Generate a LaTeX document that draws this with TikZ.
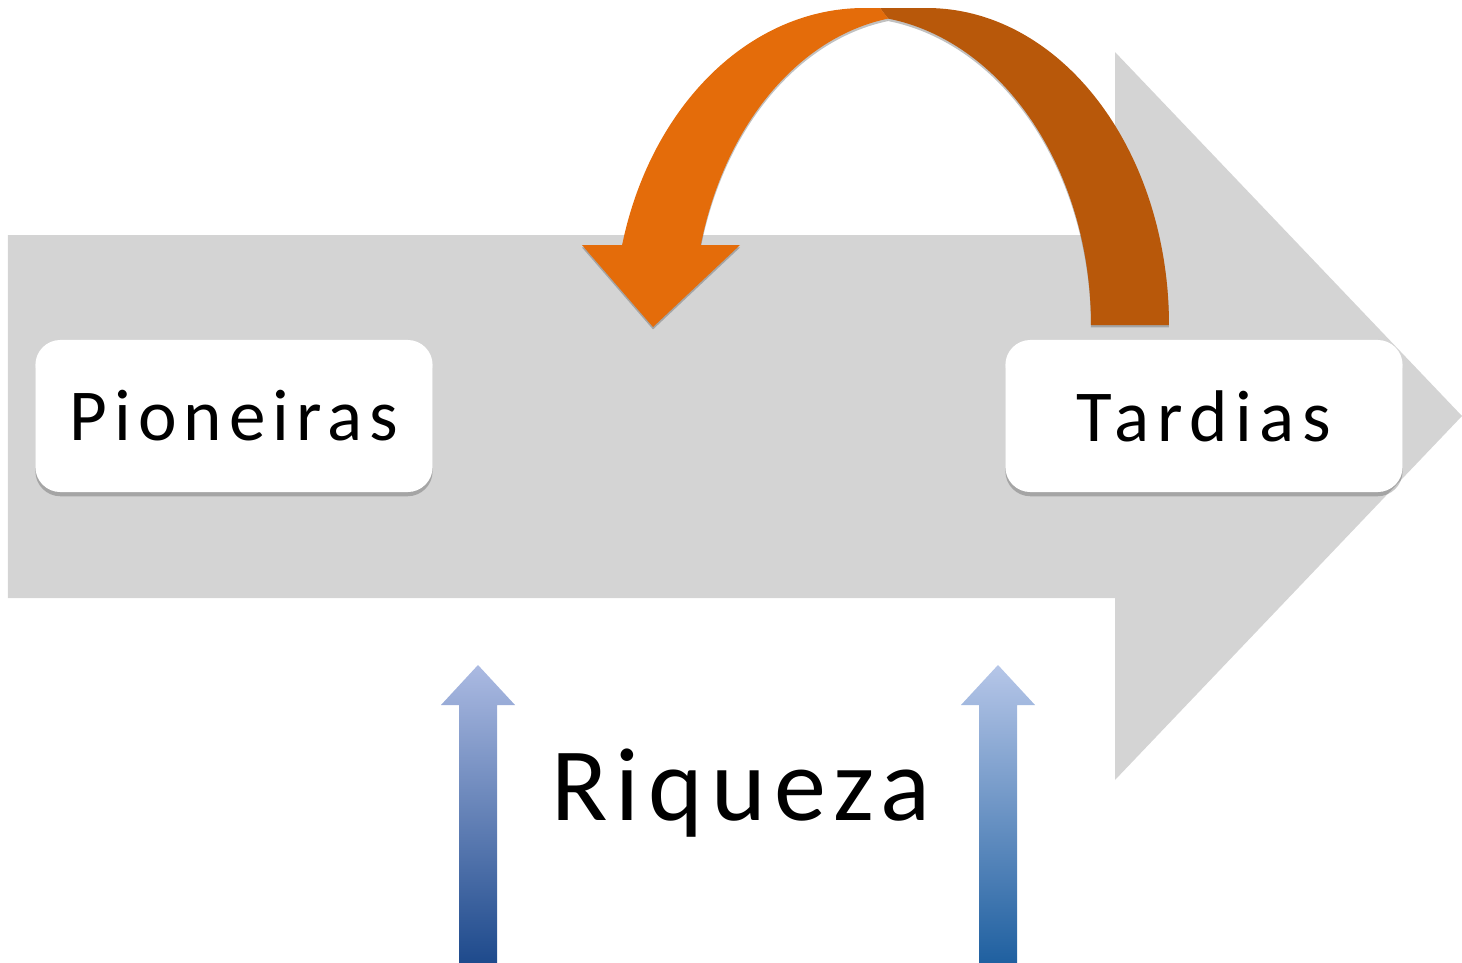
\documentclass[tikz,border=0pt]{standalone}
\usepackage{fontspec}
\setmainfont{Carlito}
\usetikzlibrary{shadows}
\definecolor{arrowgray}{HTML}{D4D4D4}
\definecolor{orangeA}{HTML}{E46C0A}
\definecolor{orangeB}{HTML}{B8580A}
\definecolor{blueLtop}{HTML}{ABBAE2}
\definecolor{blueLbot}{HTML}{1E4A8C}
\definecolor{blueRtop}{HTML}{B6C6E8}
\definecolor{blueRbot}{HTML}{1F60A0}
\tikzset{
  labelbox/.style={fill=white, rounded corners=0.25cm, minimum width=3.97cm,
    minimum height=1.52cm, inner sep=0pt,
    drop shadow={shadow xshift=0pt, shadow yshift=-1.2pt, opacity=0.22, fill=black}},
  boxfont/.style={font=\fontsize{20.8}{24}\selectfont\addfontfeature{LetterSpace=#1}},
  bigtext/.style={inner sep=0pt, font=\fontsize{29.6}{34}\selectfont\addfontfeature{LetterSpace=8}},
  orangeshadow/.style={drop shadow={shadow xshift=0pt, shadow yshift=-0.7pt, opacity=0.35, fill=black!70}},
}
\begin{document}
\begin{tikzpicture}[x=0.01cm,y=-0.01cm]
\useasboundingbox (0,0) rectangle (1462,963);
% big gray arrow
\fill[arrowgray] (8,235) -- (1115,235) -- (1115,52) -- (1462,416) -- (1115,780) -- (1115,598) -- (8,598) -- cycle;
% orange curved arrow: right (darker) part
\fill[orangeB, orangeshadow] (880,8) -- (927,8)
  -- plot[domain=90:0, samples=40, smooth] ({927+242*cos(\x)}, {325-317*sin(\x)})
  -- (1091,325)
  -- plot[domain=0:81.3, samples=40, smooth] ({852+239*cos(\x)}, {325-310*sin(\x)})
  -- cycle;
% orange curved arrow: left part with head
\fill[orangeA, orangeshadow] (740,245) -- (701,245)
  -- plot[domain=14.96:81.3, samples=40, smooth] ({923-230*cos(\x)}, {325-310*sin(\x)})
  -- (880,8) -- (864,8)
  -- plot[domain=90:14.6, samples=40, smooth] ({864-250*cos(\x)}, {325-317*sin(\x)})
  -- (582,245) -- (653,327) -- cycle;
% boxes
\node[labelbox, boxfont=9.7] (pio) at (234,416) {Pioneiras};
\node[labelbox, boxfont=10.5] (tar) at (1204,416) {Tardias};
% blue arrows
\shade[top color=blueLtop, bottom color=blueLbot]
  (459,963) -- (459,705) -- (441,705) -- (478,665) -- (515,705) -- (497,705) -- (497,963) -- cycle;
\shade[top color=blueRtop, bottom color=blueRbot]
  (979,963) -- (979,705) -- (961,705) -- (998,665) -- (1035,705) -- (1017,705) -- (1017,963) -- cycle;
% text
\node[bigtext] (riq) at (741,793) {Riqueza};
\end{tikzpicture}
\end{document}
